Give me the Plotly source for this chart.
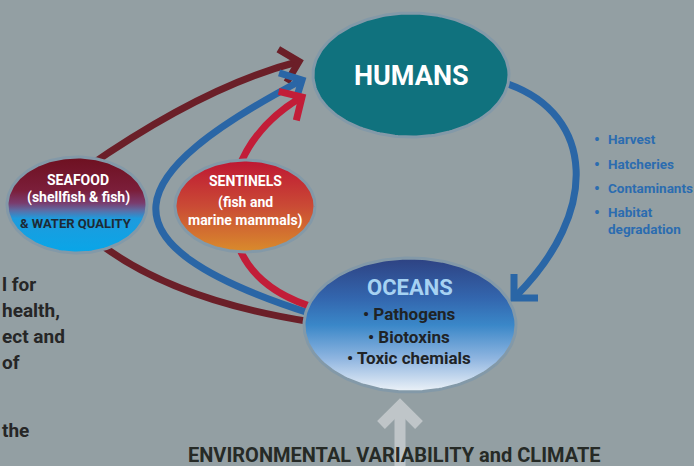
import numpy as np
import plotly.graph_objects as go

# ---------------- data (text content of the diagram) ----------------
node_names = ["HUMANS", "OCEANS"]
seafood_lines = ["SEAFOOD", "(shellfish & fish)", "& WATER QUALITY"]
sentinel_lines = ["SENTINELS", "(fish and", "marine mammals)"]
ocean_hazards = ["Pathogens", "Biotoxins", "Toxic chemials"]
human_impacts = ["Harvest", "Hatcheries", "Contaminants", "Habitat", "degradation"]
side_text = ["l for", "health,", "ect and", "of", "the"]
driver_label = "ENVIRONMENTAL VARIABILITY and CLIMATE"

# ---------------- styling ----------------
W, H = 694, 466
BG = "#939FA3"
FONT = "Roboto, sans-serif"
OUTLINE = "#8399A8"
DARKRED = "#6B1F28"
BLUE = "#2A66A6"
RED = "#C21D38"
GREY_ARROW = "#BFC5C8"

fig = go.Figure()


def ellipse(cx, cy, rx, ry, n=200):
    t = np.linspace(0, 2 * np.pi, n)
    return cx + rx * np.cos(t), cy + ry * np.sin(t)


def add_node(cx, cy, rx, ry, fillcolor=None, scale=None):
    x, y = ellipse(cx, cy, rx, ry)
    kw = dict(x=x, y=y, mode="lines", fill="toself",
              line=dict(color=OUTLINE, width=3), hoverinfo="skip", showlegend=False)
    if scale is not None:
        kw["fillgradient"] = dict(type="vertical", colorscale=scale,
                                  start=cy - ry, stop=cy + ry)
        kw["fillcolor"] = scale[0][1]
    else:
        kw["fillcolor"] = fillcolor
    fig.add_trace(go.Scatter(**kw))


# nodes
add_node(411, 75, 98, 62, fillcolor="#10727E")
add_node(410, 325, 106, 67, scale=[[0, "#2E4282"], [0.3, "#3366AE"], [0.5, "#3A87C8"],
                                   [0.75, "#8FB5E0"], [1, "#EEF3F8"]])
add_node(77, 205, 70, 48, scale=[[0, "#6E1020"], [0.35, "#7B1E3A"], [0.48, "#7A3C6E"],
                                 [0.56, "#5A6FA8"], [0.64, "#1E9BDD"], [1, "#08A6E8"]])
add_node(245, 206, 70, 46, scale=[[0, "#BE1633"], [0.5, "#CA4A35"], [1, "#D98C2C"]])

shapes = []


def curve(path, color, width=7):
    shapes.append(dict(type="path", path=path, line=dict(color=color, width=width),
                       layer="below", xref="x", yref="y"))


def head(tip, ctrl, color, L=24, width=7, direction=None):
    tx, ty = tip
    if direction is None:
        dx, dy = tx - ctrl[0], ty - ctrl[1]
    else:
        dx, dy = direction
    n = np.hypot(dx, dy)
    bx, by = -dx / n, -dy / n
    px, py = -by, bx
    k = L / np.sqrt(2)
    a1 = (tx + k * (bx + px), ty + k * (by + py))
    a2 = (tx + k * (bx - px), ty + k * (by - py))
    curve(f"M {a1[0]:.1f} {a1[1]:.1f} L {tx} {ty} L {a2[0]:.1f} {a2[1]:.1f}", color, width)


# dark red: oceans -> seafood -> humans
curve("M 312 322 Q 170 300 95 240", DARKRED)
curve("M 86 168 Q 204 86 297 62", DARKRED)
head((299, 61.5), (204, 86), DARKRED)

# blue: oceans -> humans
curve("M 312 314 C 86 242, 126 173, 300 81", BLUE)
head((302, 80), (126, 173), BLUE)

# red: oceans -> sentinels -> humans
curve("M 316 308 Q 255 290 238 245", RED)
curve("M 238 170 Q 254 126 300 98", RED)
head((302, 97), (254, 126), RED)

# humans -> oceans (right)
curve("M 508 84 C 595 115, 600 212, 516 296", BLUE)
head((514, 298), (600, 212), BLUE, direction=(-1, 1))

# grey up arrow
curve("M 400 410 L 400 470", GREY_ARROW, width=11)
curve("M 381 425 L 400 406 L 419 425", GREY_ARROW, width=11)

ann = []


def text(x, y, s, size, color, xanchor="center", bold=True):
    ann.append(dict(x=x, y=y, xref="x", yref="y", text=f"<b>{s}</b>" if bold else s,
                    showarrow=False, xanchor=xanchor, yanchor="middle",
                    font=dict(family=FONT, size=size, color=color)))


text(411, 76, node_names[0], 27, "white")
text(410, 287, node_names[1], 22, "#A6D2F2")
for s, y in zip(ocean_hazards, [314, 337, 358]):
    text(409, y, "• " + s, 17, "#1F2326")

text(78, 180, seafood_lines[0], 14, "white")
text(78, 197, seafood_lines[1], 14, "white")
text(76, 223, seafood_lines[2], 13, "#1E2A35")

text(245, 181, sentinel_lines[0], 14, "white")
text(245, 202, sentinel_lines[1], 14, "white")
text(245, 220, sentinel_lines[2], 14, "white")

IMP = "#2B6CB0"
for i, (s, y) in enumerate(zip(human_impacts, [139, 164, 188, 212, 229])):
    if i < 4:
        text(597, y, "•", 16, IMP)
    text(606, y, s, 13.5, IMP, xanchor="left")

for s, y in zip(side_text, [284, 310, 336, 362, 430]):
    text(0, y, s, 19, "#262626", xanchor="left")

text(394, 455, driver_label, 20, "#262A26")

fig.update_layout(
    width=W, height=H, margin=dict(l=0, r=0, t=0, b=0),
    paper_bgcolor=BG, plot_bgcolor=BG,
    xaxis=dict(range=[0, W], visible=False, fixedrange=True),
    yaxis=dict(range=[H, 0], visible=False, fixedrange=True),
    shapes=shapes, annotations=ann, showlegend=False,
)
fig.write_html("out.html", config={"displayModeBar": False},
               post_script="document.body.style.margin='0';document.body.style.overflow='hidden';")
